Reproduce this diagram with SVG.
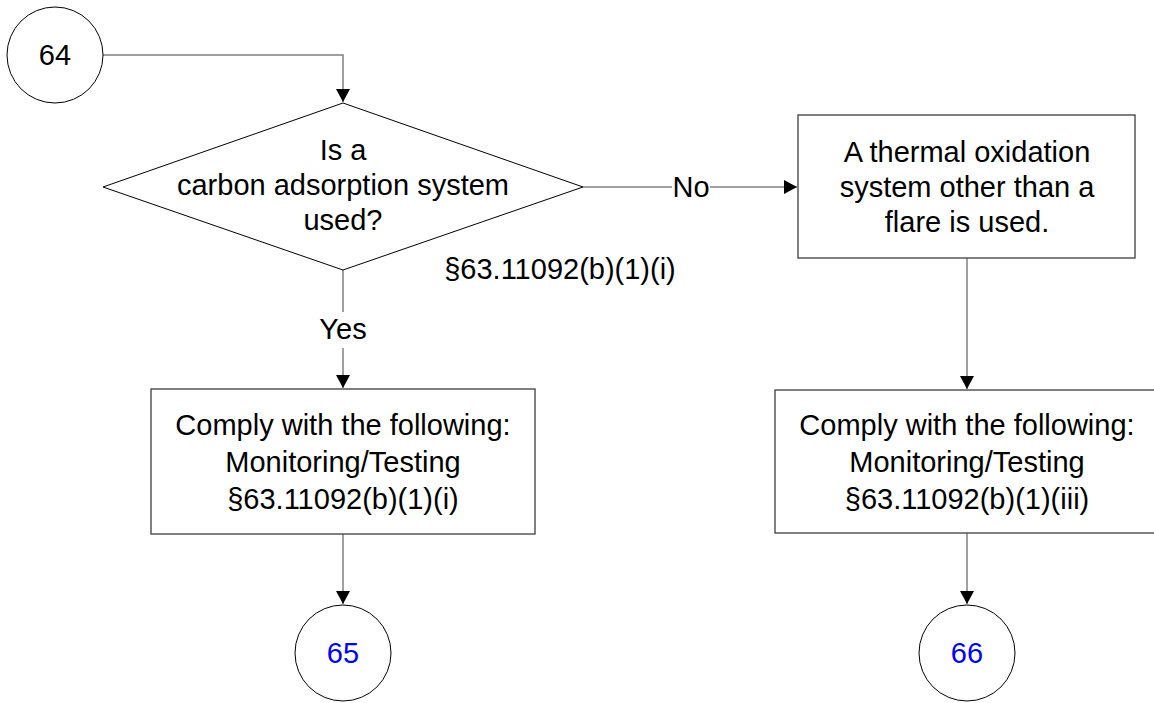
<svg xmlns="http://www.w3.org/2000/svg" width="1154" height="703" viewBox="0 0 1154 703">
<style>
text{font-family:"Liberation Sans",Arial,sans-serif;font-size:29px;fill:#000;text-anchor:middle}
.blue{fill:#0000ff}
.conn{fill:none;stroke:#808080;stroke-width:1.5}
.box{fill:#fff;stroke:#4a4a4a;stroke-width:1.4}
.term{fill:#fff;stroke:#000;stroke-width:1}
.dia{fill:#fff;stroke:#000;stroke-width:1}
</style>
<defs>
<marker id="arr" markerWidth="14" markerHeight="14" refX="13" refY="7" orient="auto" markerUnits="userSpaceOnUse">
<path d="M0,0 L13,7 L0,14 Z" fill="#000"/>
</marker>
</defs>
<g id="connectors">
<path class="conn" d="M103,55 H343 V102" marker-end="url(#arr)"/>
<path class="conn" d="M583,187 H797" marker-end="url(#arr)"/>
<path class="conn" d="M343,270 V388" marker-end="url(#arr)"/>
<path class="conn" d="M967,258 V389" marker-end="url(#arr)"/>
<path class="conn" d="M343,534 V604" marker-end="url(#arr)"/>
<path class="conn" d="M967,533 V604" marker-end="url(#arr)"/>
<rect x="672" y="170" width="38" height="34" fill="#fff"/>
<text x="691" y="197">No</text>
<rect x="316" y="312" width="54" height="36" fill="#fff"/>
<text x="343" y="339">Yes</text>
<text x="560" y="279">§63.11092(b)(1)(i)</text>
</g>
<g id="n64">
<circle class="term" cx="55" cy="55" r="48"/>
<text x="55" y="65">64</text>
</g>
<g id="decision">
<polygon class="dia" points="343,103 583,187 343,270 103,187"/>
<text x="343" y="160">Is a</text>
<text x="343" y="195">carbon adsorption system</text>
<text x="343" y="230">used?</text>
</g>
<g id="thermal">
<rect class="box" x="798" y="115" width="337" height="143"/>
<text x="967" y="162">A thermal oxidation</text>
<text x="967" y="197">system other than a</text>
<text x="967" y="232">flare is used.</text>
</g>
<g id="comply1">
<rect class="box" x="151" y="389" width="384" height="145"/>
<text x="343" y="435">Comply with the following:</text>
<text x="343" y="472">Monitoring/Testing</text>
<text x="343" y="509">§63.11092(b)(1)(i)</text>
</g>
<g id="comply2">
<rect class="box" x="775" y="390" width="384" height="143"/>
<text x="967" y="435">Comply with the following:</text>
<text x="967" y="472">Monitoring/Testing</text>
<text x="967" y="509">§63.11092(b)(1)(iii)</text>
</g>
<g id="n65">
<circle class="term" cx="343" cy="653" r="48"/>
<text class="blue" x="343" y="663">65</text>
</g>
<g id="n66">
<circle class="term" cx="967" cy="653" r="48"/>
<text class="blue" x="967" y="663">66</text>
</g>
</svg>
